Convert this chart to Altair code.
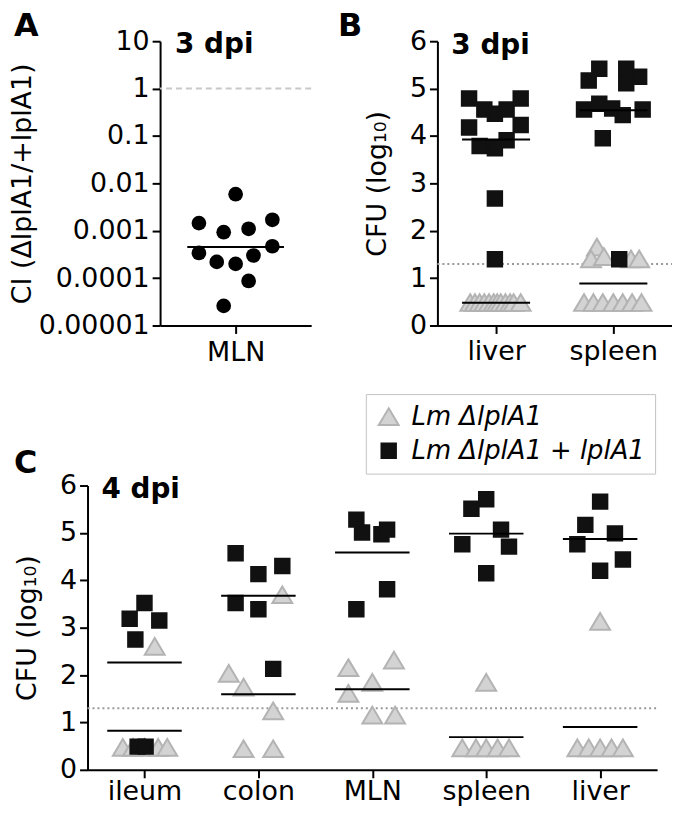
import json
import math
import altair as alt
import pandas as pd

FONT = "DejaVu Sans"
STRAINS = ["Lm ΔlplA1", "Lm ΔlplA1 + lplA1"]

A_CATS = ["MLN"]
A_CI = [0.0059, 0.00145, 0.00093, 0.0011, 0.0017, 0.00034, 0.00022, 0.0002,
        0.0003, 0.00047, 0.000087, 0.000026]
A_JIT = [0, -0.243, -0.079, 0.086, 0.243, -0.243, -0.125, 0, 0.118, 0.243, 0.086, -0.079]
A_TICKS = [10, 1, 0.1, 0.01, 0.001, 0.0001, 0.00001]
A_REF = [1]

B_CATS = ["liver", "spleen"]
B_TRI = {
    "liver": ([0.48, 0.48, 0.48, 0.48, 0.48, 0.48, 0.48, 0.48, 0.48, 0.48, 0.48, 0.48],
              [-0.22, -0.18, -0.14, -0.1, -0.06, -0.02, 0.01, 0.04, 0.08, 0.12, 0.15, 0.21]),
    "spleen": ([1.65, 1.40, 1.45, 1.40, 1.40, 0.48, 0.48, 0.48, 0.48, 0.48, 0.48, 0.48],
               [-0.14, -0.19, -0.08, 0.15, 0.22, -0.25, -0.17, -0.09, 0, 0.08, 0.16, 0.24]),
}
B_SQ = {
    "liver": ([4.79, 4.56, 4.47, 4.56, 4.79, 4.18, 4.23, 3.91, 3.79, 3.74, 2.68, 1.40],
              [-0.23, -0.10, -0.01, 0.09, 0.21, -0.23, 0.21, 0.09, -0.14, -0.01, -0.01, -0.01]),
    "spleen": ([5.17, 5.42, 5.42, 5.11, 5.25, 4.56, 4.68, 4.58, 4.44, 4.56, 3.95, 1.40],
               [-0.21, -0.12, 0.11, 0.11, 0.22, -0.25, -0.12, -0.01, 0.08, 0.25, -0.09, 0.05]),
}

C_CATS = ["ileum", "colon", "MLN", "spleen", "liver"]
C_TRI = {
    "ileum": ([2.6, 0.47, 0.47, 0.47, 0.47, 0.47], [0.09, -0.19, -0.1, 0.0, 0.12, 0.2]),
    "colon": ([3.69, 2.03, 1.74, 1.24, 0.44, 0.44], [0.21, -0.26, -0.13, 0.13, -0.13, 0.13]),
    "MLN": ([2.15, 2.31, 1.84, 1.61, 1.15, 1.15], [-0.21, 0.19, 0, -0.21, 0, 0.2]),
    "spleen": ([1.84, 0.46, 0.46, 0.46, 0.46, 0.46], [0, -0.21, -0.09, 0, 0.1, 0.2]),
    "liver": ([3.13, 0.46, 0.46, 0.46, 0.46, 0.46], [0, -0.2, -0.1, 0, 0.1, 0.2]),
}
C_SQ = {
    "ileum": ([3.19, 3.52, 3.15, 2.75, 0.49, 0.49], [-0.13, 0, 0.13, -0.08, -0.06, 0.01]),
    "colon": ([4.57, 4.13, 4.30, 3.52, 3.39, 2.13], [-0.2, 0, 0.21, -0.2, 0, 0.13]),
    "MLN": ([5.28, 5.01, 4.97, 5.07, 3.81, 3.39], [-0.14, -0.09, 0.08, 0.13, 0.13, -0.14]),
    "spleen": ([5.51, 5.71, 5.07, 4.76, 4.71, 4.15], [-0.13, 0, 0.13, -0.21, 0.2, 0]),
    "liver": ([5.66, 5.17, 4.99, 4.76, 4.44, 4.20], [0, -0.13, 0.13, -0.2, 0.2, 0]),
}
LOD = [1.3]
CFU_TICKS = [0, 1, 2, 3, 4, 5, 6]

SYM_SIZE = 330
TRI_PATH = "M0,-0.95L1.1,0.9L-1.1,0.9Z"
SQ_PATH = "M-0.8,-0.8H0.8V0.8H-0.8Z"
shape_scale = alt.Scale(domain=STRAINS, range=[TRI_PATH, SQ_PATH])
fill_scale = alt.Scale(domain=STRAINS, range=["#d3d3d3", "#111111"])
stroke_scale = alt.Scale(domain=STRAINS, range=["#b3b3b3", "#111111"])
LBL = 27
TTL = 27
H = 286


def points_df(cats, tri, sq):
    rows = []
    for src, strain in ((tri, STRAINS[0]), (sq, STRAINS[1])):
        for i, c in enumerate(cats):
            vals, jit = src[c]
            for v, j in zip(vals, jit):
                rows.append({"pos": i + 0.5 + j, "value": v, "strain": strain, "cat": c})
    return pd.DataFrame(rows)


def means_df(cats, tri, sq, half):
    rows = []
    for src in (tri, sq):
        for i, c in enumerate(cats):
            vals = src[c][0]
            m = sum(vals) / len(vals)
            rows.append({"x1": i + 0.5 - half, "x2": i + 0.5 + half, "m": m})
    return pd.DataFrame(rows)


def label_expr(cats):
    return json.dumps(cats) + "[floor(datum.value)]"


def text_mark(label, dx, dy, size, baseline="middle"):
    return alt.Chart(pd.DataFrame({"t": [label]})).mark_text(
        align="left", baseline=baseline, font=FONT, fontSize=size, fontWeight="bold", color="black"
    ).encode(x=alt.value(dx), y=alt.value(dy), text="t:N")


def x_axis(cats, pad):
    return alt.Axis(values=[i + 0.5 for i in range(len(cats))], labelExpr=label_expr(cats),
                    title=None, labelPadding=pad)


dfA = pd.DataFrame({"pos": [0.5 + j for j in A_JIT], "ci": A_CI})
gm = 10 ** (sum(math.log10(v) for v in A_CI) / len(A_CI))
dfA_mean = pd.DataFrame({"x1": [0.5 - 0.32], "x2": [0.5 + 0.32], "m": [gm]})
xA = alt.X("pos:Q", scale=alt.Scale(domain=[0, 1], nice=False, zero=False), axis=x_axis(A_CATS, 6))
yA_scale = alt.Scale(type="log", domain=[0.00001, 10], nice=False)
yA_axis = alt.Axis(values=A_TICKS, format=".5~f", title="CI (ΔlplA1/+lplA1)", titlePadding=2)

refA = alt.Chart(pd.DataFrame({"r": A_REF})).mark_rule(
    color="#c8c8c8", strokeWidth=2, strokeDash=[6, 4]).encode(y=alt.Y("r:Q", scale=yA_scale, axis=yA_axis))
ptsA = alt.Chart(dfA).mark_circle(size=219, color="black", opacity=1).encode(
    x=xA, y=alt.Y("ci:Q", scale=yA_scale, axis=yA_axis))
meanA = alt.Chart(dfA_mean).mark_rule(color="black", strokeWidth=2).encode(
    x="x1:Q", x2="x2:Q", y=alt.Y("m:Q", scale=yA_scale, axis=yA_axis))
panelA = alt.layer(refA, ptsA, meanA, text_mark("3 dpi", 15, 4, 28),
                   text_mark("A", -147, -30, 32, "top")).properties(width=152, height=H)

cfu_scale = alt.Scale(domain=[0, 6], nice=False, zero=False)


def cfu_panel(cats, tri, sq, width, half, dpi, legend, xpad, shift=0):
    cfu_axis = alt.Axis(values=CFU_TICKS, title="CFU (log₁₀)", format="d", titlePadding=18,
                        offset=shift)
    dfp = points_df(cats, tri, sq)
    dfm = means_df(cats, tri, sq, half)
    xscale = alt.Scale(domain=[0, len(cats)], nice=False, zero=False, range=[-shift, width])
    x = alt.X("pos:Q", scale=xscale, axis=x_axis(cats, xpad))
    lod = alt.Chart(pd.DataFrame({"l": LOD})).mark_rule(
        color="#999999", strokeWidth=2, strokeDash=[2, 3]).encode(
        y=alt.Y("l:Q", scale=cfu_scale, axis=cfu_axis), x=alt.value(-shift), x2=alt.value(width))
    enc = dict(x=x, y=alt.Y("value:Q", scale=cfu_scale, axis=cfu_axis),
               shape=alt.Shape("strain:N", scale=shape_scale, legend=legend),
               fill=alt.Fill("strain:N", scale=fill_scale, legend=legend),
               stroke=alt.Stroke("strain:N", scale=stroke_scale, legend=legend))
    pts = alt.Chart(dfp).mark_point(filled=True, size=SYM_SIZE, strokeWidth=2, opacity=1).encode(**enc)
    means = alt.Chart(dfm).mark_rule(color="black", strokeWidth=2).encode(
        x=alt.X("x1:Q", scale=xscale), x2="x2:Q", y=alt.Y("m:Q", scale=cfu_scale, axis=cfu_axis))
    return alt.layer(lod, pts, means, text_mark(dpi, 14 - shift, 5, 28)).properties(
        width=width, height=H)


panelB = alt.layer(cfu_panel(B_CATS, B_TRI, B_SQ, 236, 0.29, "3 dpi", None, 5),
                   text_mark("B", -100, -30, 32, "top"))

SHIFT_C = 73
legC = alt.Legend(orient="none", legendX=280 - SHIFT_C, legendY=-92, title=None, labelFont=FONT,
                  labelFontSize=26, labelFontStyle="italic", labelColor="black", labelLimit=400,
                  symbolSize=SYM_SIZE, symbolStrokeWidth=2, strokeColor="#c4c4c4",
                  padding=10, rowPadding=8, labelOffset=10, fillColor="white")
panelC = alt.layer(cfu_panel(C_CATS, C_TRI, C_SQ, 573 - SHIFT_C, 0.327, "4 dpi", legC, 1, SHIFT_C),
                   text_mark("C", -74 - SHIFT_C, -38, 32, "top"))

top = alt.hconcat(panelA, panelB, spacing=26)
chart = alt.vconcat(top, panelC, spacing=28).resolve_scale(
    shape="independent", fill="independent", stroke="independent"
).resolve_legend(shape="independent", fill="independent", stroke="independent").properties(
    padding={"left": 0, "top": 0, "right": -58, "bottom": 0}
).configure(background="white").configure_axis(
    domainColor="black", domainWidth=2, tickColor="black", tickWidth=2, tickSize=8,
    labelFont=FONT, labelFontSize=LBL, labelColor="black", labelPadding=3,
    titleFont=FONT, titleFontSize=TTL, titleFontWeight="normal", titleColor="black",
    grid=False
).configure_view(stroke=None)

chart.save("out.html", embed_options={"renderer": "svg", "actions": False})
